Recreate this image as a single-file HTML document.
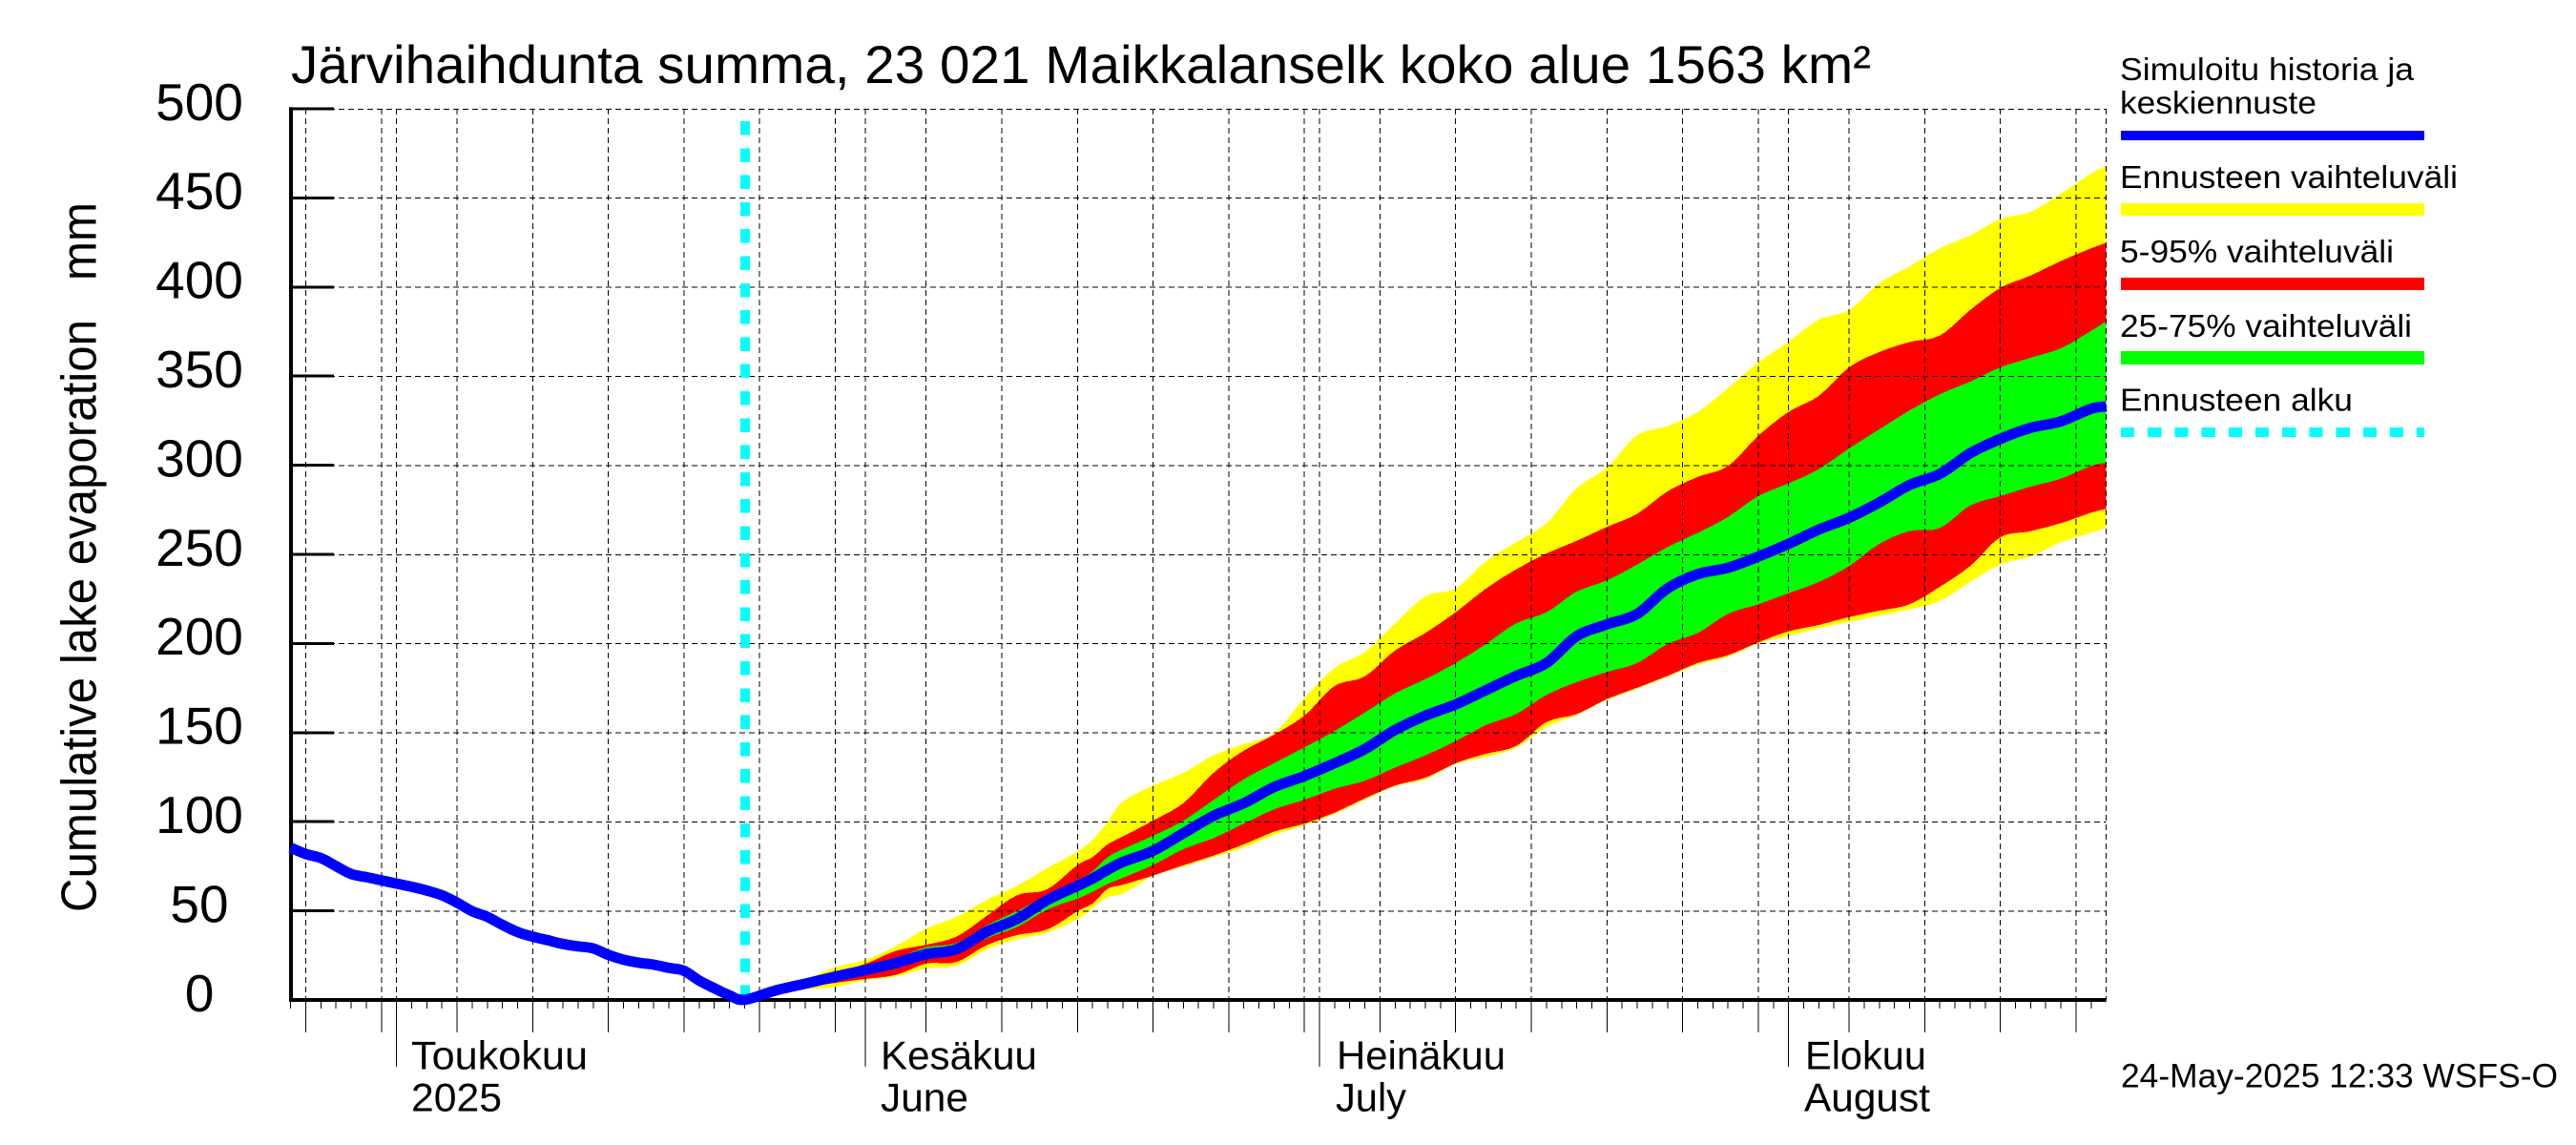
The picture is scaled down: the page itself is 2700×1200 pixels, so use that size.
<!DOCTYPE html>
<html lang="fi">
<head>
<meta charset="utf-8">
<title>Järvihaihdunta summa</title>
<style>
html,body{margin:0;padding:0;background:#fff;width:2700px;height:1200px;overflow:hidden}
svg{display:block}
text{font-family:"Liberation Sans",Arial,sans-serif;fill:#000;white-space:pre}
</style>
</head>
<body>
<svg id="chart" xmlns="http://www.w3.org/2000/svg" width="2700" height="1200" viewBox="0 0 2700 1200">
  <rect x="0" y="0" width="2700" height="1200" fill="#fff"/>
  <g id="bands"></g>
  <g id="grid"></g>
  <g id="start"></g>
  <g id="axes"></g>
  <g id="lines"></g>

  <text x="305" y="87" font-size="56" textLength="1656" lengthAdjust="spacingAndGlyphs">Järvihaihdunta summa, 23 021 Maikkalanselk koko alue 1563 km²</text>
  <text transform="translate(100.5 956) rotate(-90)" font-size="52" textLength="744" lengthAdjust="spacingAndGlyphs">Cumulative lake evaporation   mm</text>

  <text x="431" y="1120.5" font-size="42" textLength="185" lengthAdjust="spacingAndGlyphs">Toukokuu</text>
  <text x="431" y="1164.5" font-size="42" textLength="95" lengthAdjust="spacingAndGlyphs">2025</text>
  <text x="923" y="1120.5" font-size="42" textLength="164" lengthAdjust="spacingAndGlyphs">Kesäkuu</text>
  <text x="923" y="1164.5" font-size="42" textLength="92" lengthAdjust="spacingAndGlyphs">June</text>
  <text x="1401" y="1120.5" font-size="42" textLength="177" lengthAdjust="spacingAndGlyphs">Heinäkuu</text>
  <text x="1400" y="1164.5" font-size="42" textLength="74" lengthAdjust="spacingAndGlyphs">July</text>
  <text x="1892" y="1120.5" font-size="42" textLength="127" lengthAdjust="spacingAndGlyphs">Elokuu</text>
  <text x="1891" y="1164.5" font-size="42" textLength="132" lengthAdjust="spacingAndGlyphs">August</text>

  <g>
    <text x="2222" y="84" font-size="33" textLength="308" lengthAdjust="spacingAndGlyphs">Simuloitu historia ja</text>
    <text x="2222" y="119" font-size="33" textLength="206" lengthAdjust="spacingAndGlyphs">keskiennuste</text>
    <rect x="2223" y="137" width="318" height="10" fill="#0000ff"/>
    <text x="2222" y="197" font-size="33" textLength="354" lengthAdjust="spacingAndGlyphs">Ennusteen vaihteluväli</text>
    <rect x="2223" y="213" width="318" height="13" fill="#ffff00"/>
    <text x="2222" y="275" font-size="33" textLength="287" lengthAdjust="spacingAndGlyphs">5-95% vaihteluväli</text>
    <rect x="2223" y="291" width="318" height="13" fill="#ff0000"/>
    <text x="2222" y="353" font-size="33" textLength="306" lengthAdjust="spacingAndGlyphs">25-75% vaihteluväli</text>
    <rect x="2223" y="368" width="318" height="14" fill="#00ff00"/>
    <text x="2222" y="430.5" font-size="33" textLength="244" lengthAdjust="spacingAndGlyphs">Ennusteen alku</text>
    <line x1="2223" y1="453" x2="2541" y2="453" stroke="#00ffff" stroke-width="10" stroke-dasharray="14.2 14" shape-rendering="crispEdges"/>
  </g>

  <text x="2223" y="1139.5" font-size="35" textLength="458" lengthAdjust="spacingAndGlyphs">24-May-2025 12:33 WSFS-O</text>
</svg>

<script>
const yTickValues = [0, 50, 100, 150, 200, 250, 300, 350, 400, 450, 500];
const yTickLabels = ["0", "50", "100", "150", "200", "250", "300", "350", "400", "450", "500"];
const totalDays = 120;
const monthDays = [7, 38, 68, 99];
const fiveDayDays = [1, 6, 11, 16, 21, 26, 31, 36, 42, 47, 52, 57, 62, 67, 72, 77, 82, 87, 92, 97, 103, 108, 113, 118];
const forecastStartDay = 30;

const historyDays = [0, 1, 2, 3, 4, 5, 6, 7, 8, 9, 10, 11, 12, 13, 14, 15, 16, 17, 18, 19, 20, 21, 22, 23, 24, 25, 26, 27, 28, 29, 30];
const historyValues = [85.4, 81.8, 79.5, 75, 70.6, 68.8, 67, 65.2, 63.4, 61.3, 58.6, 54.5, 49.7, 46.5, 42, 38, 35.4, 33.4, 31.3, 30, 28.8, 25.2, 22.5, 20.8, 19.7, 17.9, 16.3, 10.8, 6.5, 2.5, 0];

const forecastDays = [30, 32, 34, 36, 38, 40, 42, 44, 46, 48, 50, 52, 53, 54, 55, 57, 59, 61, 63, 65, 67, 69, 71, 73, 75, 77, 79, 81, 83, 85, 87, 89, 91, 93, 95, 97, 99, 101, 103, 105, 107, 109, 111, 113, 115, 117, 119, 120];
const forecastMedian = [0, 5.1, 9, 13, 16.7, 20.6, 25.6, 28.3, 38.1, 45.3, 55.9, 63.9, 68, 72.9, 77.3, 83.6, 93.4, 103.2, 110.3, 119.3, 125.5, 132.7, 140.7, 151.4, 159.4, 165.7, 173.7, 181.7, 188.9, 204, 210.6, 216.5, 230.8, 238.8, 242.4, 248.6, 255.8, 263.8, 270.4, 279, 288.8, 295, 306.6, 314.7, 320.9, 324.5, 331.6, 332.9];
const rangeMax = [0, 6, 11.3, 18.3, 22.4, 30, 39.9, 46.4, 56, 63.9, 73.8, 83.1, 89.8, 99.7, 111.2, 120.2, 127.3, 137.1, 143.4, 149.6, 169.2, 186.2, 195.1, 211.2, 226.3, 230.8, 246, 256.7, 267.4, 287, 298.6, 316.8, 321.8, 329.8, 343.2, 357.5, 369.1, 381.6, 387, 402.1, 411.4, 421.6, 428.8, 438, 442.1, 452.3, 463.6, 467.8];
const rangeMin = [0, 4.5, 6, 7.2, 11, 13, 17.6, 19.1, 28.3, 34, 37.6, 45.3, 51.4, 57.7, 59.5, 69.4, 74.7, 80, 85.4, 92.5, 97.9, 104.2, 112.2, 119.8, 123.7, 132.3, 136.2, 141.5, 153, 159.7, 168.3, 174.5, 181.2, 188, 192.4, 200, 204, 208.5, 212, 215.6, 219, 223.7, 234.4, 244.2, 248.7, 256.7, 262, 264.7];
const p95 = [0, 5.5, 10, 15.2, 20.2, 27.4, 30.9, 35.4, 47, 58.6, 62, 75.6, 80, 87.2, 91.6, 100.5, 110.3, 127.3, 139.8, 148.7, 159.4, 176, 181.5, 196, 205.8, 217.4, 230.7, 241.5, 250.4, 257.5, 265.3, 272.7, 285.2, 293.3, 299.5, 316.4, 329.8, 338.8, 354.8, 363.4, 369, 372.7, 386.9, 399.4, 406.3, 414.5, 421.6, 424.7];
const p5 = [0, 4.7, 7, 9.5, 11.7, 13.9, 20.3, 21.2, 30.6, 36.3, 39.4, 49.7, 54, 62.2, 64.5, 69.7, 75.5, 80.9, 87.2, 94.3, 98.8, 105, 113, 120.2, 124.6, 132.7, 138, 142.4, 155.8, 160.3, 168.7, 175.1, 181.7, 188.9, 193.3, 200.5, 206.7, 210.3, 214.7, 218.3, 221.9, 231.7, 243.3, 259.4, 262.9, 267.4, 273.3, 275.4];
const p75 = [0, 5, 8.5, 13.5, 17.5, 23.1, 29.5, 31.8, 41.7, 49.7, 58.6, 67.1, 72, 80, 84.5, 92, 100.5, 112.1, 123.7, 132.7, 141.6, 150.8, 161.2, 171.9, 179.9, 188.9, 199.6, 211.2, 217.4, 229, 235.3, 244.2, 254, 262, 270.9, 282.6, 289.7, 297.7, 309.3, 320, 330.7, 339.7, 346.8, 354.8, 360.2, 365.5, 375.3, 380.7];
const p25 = [0, 4.9, 8, 11.5, 14.5, 18.4, 23, 26, 34.5, 40.8, 50.6, 56.8, 60.5, 65, 68.4, 75.6, 84.5, 90.7, 98.8, 106.8, 112.2, 118.4, 122.9, 130.3, 137.1, 145.1, 154.1, 160.3, 171, 178.2, 183.9, 188.9, 199.6, 205.8, 216.5, 221.9, 228.1, 234.4, 243.3, 255.8, 262.9, 264.7, 277.2, 282.6, 287.9, 292.4, 299.5, 301.3];

const NS = "http://www.w3.org/2000/svg";
function xScale(day) { return 304.6 + 15.859 * day; }
function yScale(mm) { return 1047.8 - 1.868 * mm; }
function make(parent, tag, attrs) {
  const el = document.createElementNS(NS, tag);
  for (const k in attrs) el.setAttribute(k, attrs[k]);
  parent.appendChild(el);
  return el;
}
/* Catmull-Rom style smoothing through the pixel points produced by the axis functions */
function smoothSegments(pts) {
  let s = "";
  for (let i = 0; i < pts.length - 1; i++) {
    const p0 = pts[Math.max(i - 1, 0)], p1 = pts[i], p2 = pts[i + 1], p3 = pts[Math.min(i + 2, pts.length - 1)];
    const c1x = p1[0] + (p2[0] - p0[0]) / 6, c1y = p1[1] + (p2[1] - p0[1]) / 6;
    const c2x = p2[0] - (p3[0] - p1[0]) / 6, c2y = p2[1] - (p3[1] - p1[1]) / 6;
    s += "C" + c1x.toFixed(1) + " " + c1y.toFixed(1) + " " + c2x.toFixed(1) + " " + c2y.toFixed(1) + " " + p2[0].toFixed(1) + " " + p2[1].toFixed(1);
  }
  return s;
}
function bandPath(upper, lower) {
  const top = forecastDays.map((d, i) => [xScale(d), yScale(upper[i])]);
  const bottom = forecastDays.map((d, i) => [xScale(d), yScale(lower[i])]).reverse();
  return "M" + top[0][0].toFixed(1) + " " + top[0][1].toFixed(1) + smoothSegments(top) +
    "L" + bottom[0][0].toFixed(1) + " " + bottom[0][1].toFixed(1) + smoothSegments(bottom) + "Z";
}

const bands = document.getElementById("bands");
const grid = document.getElementById("grid");
const axes = document.getElementById("axes");
const lines = document.getElementById("lines");
const start = document.getElementById("start");

const yellowBand = make(bands, "path", { d: bandPath(rangeMax, rangeMin), fill: "#ffff00", "shape-rendering": "crispEdges" });


const redBand = make(bands, "path", { d: bandPath(p95, p5), fill: "#ff0000", "shape-rendering": "crispEdges" });


const greenBand = make(bands, "path", { d: bandPath(p75, p25), fill: "#00ff00", "shape-rendering": "crispEdges" });



const gridStyle = { stroke: "#000", "stroke-width": 1, "stroke-dasharray": "6 4", "shape-rendering": "crispEdges" };
yTickValues.forEach(function (v) {
  const y = yScale(v) + 0.5;
  if (v > 0) {
    const gl = make(grid, "line", Object.assign({ x1: 305, y1: y, x2: xScale(totalDays), y2: y }, gridStyle));
    
    
  }
});
fiveDayDays.concat(monthDays, [totalDays]).forEach(function (d) {
  const gv = make(grid, "line", Object.assign({ x1: xScale(d), y1: yScale(500), x2: xScale(d), y2: yScale(0) }, gridStyle));
  
  
});

const startLine = make(start, "line", { x1: xScale(forecastStartDay) + 0.6, y1: 127, x2: xScale(forecastStartDay) + 0.6, y2: 1046, stroke: "#00ffff", "stroke-width": 10, "stroke-dasharray": "14.5 13.8", "shape-rendering": "crispEdges" });



const yAxis = make(axes, "rect", { x: 303, y: yScale(500) - 1.5, width: 4, height: yScale(0) - yScale(500) + 3.7, fill: "#000" });


const xAxis = make(axes, "rect", { x: 303, y: 1046, width: xScale(totalDays) - 303, height: 4, fill: "#000" });



yTickValues.forEach(function (v, i) {
  const y = yScale(v);
  if (v > 0) {
    const t = make(axes, "rect", { x: 305, y: y - 1.3, width: 45, height: 3, fill: "#000", "shape-rendering": "crispEdges" });
    
    
  }
  const lab = make(axes, "text", { x: 209, y: y + 12, "font-size": 55, "text-anchor": "middle" });
  
  
  lab.textContent = yTickLabels[i];
});

for (let d = 0; d < totalDays; d++) {
  let bottom = 1057;
  if (fiveDayDays.indexOf(d) >= 0) bottom = 1082;
  if (monthDays.indexOf(d) >= 0) bottom = 1118;
  const tick = make(axes, "line", { x1: xScale(d), y1: 1050, x2: xScale(d), y2: bottom, stroke: "#000", "stroke-width": 1, "shape-rendering": "crispEdges" });
  
  
}

const linePts = historyDays.map((d, i) => [xScale(d), yScale(historyValues[i])])
  .concat(forecastDays.slice(1).map((d, i) => [xScale(d), yScale(forecastMedian[i + 1])]));
const medianLine = make(lines, "path", { d: "M" + linePts[0][0].toFixed(1) + " " + linePts[0][1].toFixed(1) + smoothSegments(linePts), fill: "none", stroke: "#0000ff", "stroke-width": 11, "stroke-linejoin": "round" });


</script>
</body>
</html>
